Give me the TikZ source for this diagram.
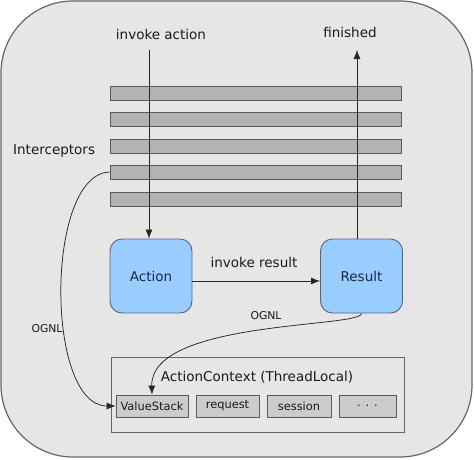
\documentclass[tikz,border=0pt]{standalone}
\usepackage{fontspec}
\setmainfont{DejaVu Sans}
\usetikzlibrary{arrows.meta}
\definecolor{bgfill}{HTML}{E6E6E6}
\definecolor{barfill}{HTML}{B3B3B3}
\definecolor{boxblue}{HTML}{99CCFF}
\definecolor{boxedge}{HTML}{56667A}
\definecolor{boxtext}{HTML}{1A2A44}
\definecolor{txt}{HTML}{1A1A1A}
\tikzset{
  bar/.style={draw=black!65, fill=barfill, line width=0.8pt, minimum width=291pt, minimum height=14pt, inner sep=0pt},
  bluebox/.style={draw=boxedge, fill=boxblue, line width=0.9pt, rounded corners=12pt, minimum width=82pt, minimum height=74pt, inner sep=0pt, text=boxtext, font=\fontsize{13.5}{16}\selectfont},
  smallbox/.style={draw=black!65, fill=black!20, line width=0.8pt, minimum height=22pt, inner sep=0pt, font=\fontsize{11.4}{13}\selectfont, text=txt},
  lbl/.style={text=txt, font=\fontsize{13.5}{16}\selectfont, inner sep=0pt},
  slbl/.style={text=txt, font=\fontsize{10.8}{13}\selectfont, inner sep=0pt},
  conn/.style={line width=0.75pt, black!85},
  arr/.style={conn, -{Latex[length=9pt,width=7pt]}},
}
\begin{document}
\begin{tikzpicture}[x=1pt, y=-1pt]
\useasboundingbox (0,0) rectangle (474,459);
\draw[fill=bgfill, draw=black!60, line width=1.2pt, rounded corners=72pt] (1,1) rectangle (472,457);

% interceptor bars
\node[bar] (b1) at (255.5,93) {};
\node[bar] (b2) at (255.5,119.5) {};
\node[bar] (b3) at (255.5,146) {};
\node[bar] (b4) at (255.5,172) {};
\node[bar] (b5) at (255.5,199) {};
\node[lbl, anchor=west] (icpt) at (13,151) {Interceptors};

% labels
\node[lbl] (tia) at (161,34) {invoke action};
\node[lbl] (tfin) at (350,32) {finished};
\coordinate (ia) at (149,50);
\coordinate (fin) at (357,50);

% boxes
\node[bluebox] (act) at (151,276) {Action};
\node[bluebox] (res) at (361.5,276) {Result};

\draw[arr] (ia) -- (ia |- act.north);
\draw[arr] (res.north -| fin) -- (fin);
\draw[arr] ([yshift=-5pt]act.east) -- ([yshift=-5pt]res.west);
\node[lbl] (tir) at (254,262) {invoke result};

% action context
\node[draw=black!60, fill=bgfill, line width=0.8pt, minimum width=293pt, minimum height=75pt, inner sep=0pt] (ctx) at (257.5,394.5) {};
\node[lbl] (tctx) at (257,377) {ActionContext (ThreadLocal)};
\node[smallbox, minimum width=72pt] (vs) at (152,406) {ValueStack};
\node[smallbox, minimum width=63pt] (rq) at (227.5,406) {request};
\node[smallbox, minimum width=64pt] (ss) at (299,406) {session};
\node[smallbox, minimum width=57pt] (dots) at (367.5,406) {. . .};

% OGNL connectors
\draw[arr] (b4.west) .. controls (45,174) and (45,406) .. (vs.west);
\node[slbl] (og1) at (47,329) {OGNL};
\draw[arr] (res.south) .. controls (361,328) and (150,320) .. (vs.north -| 152,0);
\node[slbl] (og2) at (266,316) {OGNL};
\end{tikzpicture}
\end{document}
